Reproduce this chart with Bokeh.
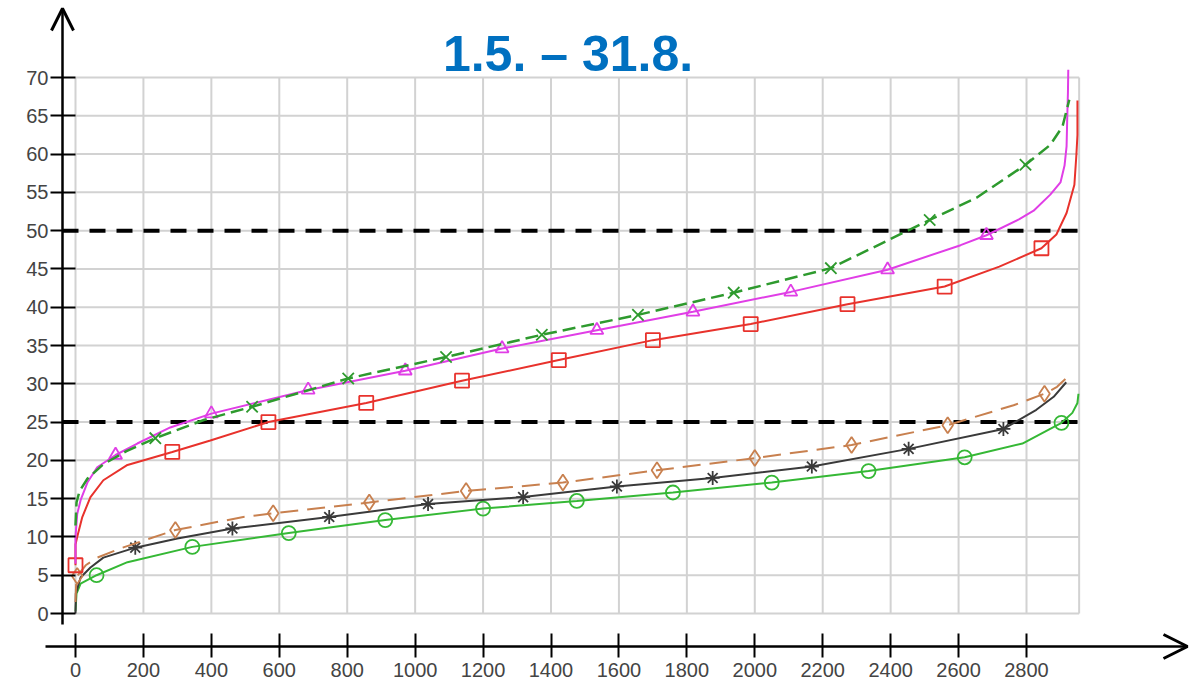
from bokeh.plotting import figure
from bokeh.models import Range1d, FixedTicker, Arrow, OpenHead, Label
from bokeh.embed import file_html
from bokeh.resources import INLINE

TITLE = "1.5. – 31.8."
X_TICKS = list(range(0, 2801, 200))
Y_TICKS = list(range(0, 71, 5))
X_MAX = 2955
Y_MAX = 70
THRESHOLDS = [25, 50]

# upper group
red_x = [0, 0, 5, 20, 44, 82, 153, 285, 397, 568, 856, 1138, 1423, 1700, 1988, 2273, 2559, 2720, 2844, 2888, 2918, 2941, 2947, 2950, 2950]
red_y = [6.3, 9.0, 10.0, 12.6, 15.2, 17.4, 19.4, 21.1, 22.6, 25.0, 27.5, 30.4, 33.1, 35.7, 37.8, 40.4, 42.7, 45.3, 47.7, 49.5, 52.3, 56.0, 60.0, 62.5, 67.0]
red_mx = [0, 285, 568, 856, 1138, 1423, 1700, 1988, 2273, 2559, 2844]
red_my = [6.3, 21.1, 25.0, 27.5, 30.4, 33.1, 35.7, 37.8, 40.4, 42.7, 47.7]

mag_x = [0, 0, 5, 15, 35, 64, 118, 182, 279, 400, 685, 971, 1256, 1535, 1818, 2106, 2391, 2606, 2682, 2779, 2821, 2870, 2900, 2912, 2918, 2920, 2922, 2923]
mag_y = [6.5, 10.0, 13.0, 14.8, 17.1, 19.1, 20.7, 22.2, 24.3, 26.1, 29.2, 31.7, 34.6, 37.0, 39.4, 42.0, 44.9, 48.1, 49.4, 51.5, 52.6, 54.7, 56.3, 58.5, 61.0, 64.8, 68.0, 71.0]
mag_mx = [118, 400, 685, 971, 1256, 1535, 1818, 2106, 2391, 2682]
mag_my = [20.7, 26.1, 29.2, 31.7, 34.6, 37.0, 39.4, 42.0, 44.9, 49.4]

gd_x = [0, 3, 12, 35, 82, 150, 235, 380, 520, 803, 1091, 1373, 1656, 1938, 2224, 2515, 2653, 2797, 2870, 2906, 2926]
gd_y = [11.5, 14.5, 16.0, 17.6, 19.5, 21.2, 22.9, 25.3, 27.0, 30.7, 33.5, 36.4, 39.0, 41.9, 45.1, 51.4, 54.3, 58.6, 61.2, 63.6, 67.1]
gd_mx = [235, 520, 803, 1091, 1373, 1656, 1938, 2224, 2515, 2797]
gd_my = [22.9, 27.0, 30.7, 33.5, 36.4, 39.0, 41.9, 45.1, 51.4, 58.6]

# lower group
br_x = [0, 2, 5, 30, 64, 132, 294, 494, 582, 865, 1150, 1435, 1712, 2000, 2285, 2568, 2762, 2853, 2890, 2926]
br_y = [1.5, 4.0, 4.9, 6.3, 7.3, 8.5, 10.9, 12.6, 13.1, 14.5, 16.0, 17.1, 18.7, 20.3, 22.0, 24.6, 27.2, 28.7, 29.6, 31.1]
br_mx = [5, 294, 582, 865, 1150, 1435, 1712, 2000, 2285, 2568, 2853]
br_my = [4.9, 10.9, 13.1, 14.5, 16.0, 17.1, 18.7, 20.3, 22.0, 24.6, 28.7]

bk_x = [0, 1, 15, 44, 82, 176, 300, 462, 747, 1038, 1318, 1594, 1876, 2168, 2453, 2732, 2829, 2880, 2917]
bk_y = [0, 2.6, 4.7, 6.0, 7.3, 8.6, 9.8, 11.1, 12.6, 14.3, 15.2, 16.6, 17.7, 19.2, 21.5, 24.1, 26.6, 28.3, 30.2]
bk_mx = [176, 462, 747, 1038, 1318, 1594, 1876, 2168, 2453, 2732]
bk_my = [8.6, 11.1, 12.6, 14.3, 15.2, 16.6, 17.7, 19.2, 21.5, 24.1]

gs_x = [0, 3, 15, 62, 153, 344, 628, 912, 1200, 1476, 1759, 2050, 2335, 2618, 2788, 2903, 2935, 2950, 2953]
gs_y = [0.3, 2.6, 3.9, 5.0, 6.7, 8.7, 10.5, 12.2, 13.7, 14.7, 15.8, 17.1, 18.6, 20.4, 22.2, 24.9, 26.2, 27.5, 28.7]
gs_mx = [62, 344, 628, 912, 1200, 1476, 1759, 2050, 2335, 2618, 2903]
gs_my = [5.0, 8.7, 10.5, 12.2, 13.7, 14.7, 15.8, 17.1, 18.6, 20.4, 24.9]

# ---- layout (pixels; frame fills the whole figure) ----
W, H = 1192, 680
KX = 951 / 2800.0          # px per x unit
KY = 536 / 70.0            # px per y unit
X0_PX, Y0_PX = 75, 613     # pixel position of the data origin
x_start = -X0_PX / KX
x_end = x_start + W / KX
y_end = Y_MAX + (Y0_PX - 536) / KY
y_start = y_end - H / KY

yaxis_x = -13 / KX          # y axis line, 13 px left of x=0
xaxis_y = -33 / KY          # x axis line, 33 px below y=0

p = figure(width=W, height=H, output_backend="svg", toolbar_location=None,
           x_range=Range1d(x_start, x_end), y_range=Range1d(y_start, y_end),
           min_border_left=0, min_border_right=0, min_border_top=0, min_border_bottom=0)
p.outline_line_color = None
p.xgrid.visible = False
p.ygrid.visible = False

for ax, ticks in ((p.xaxis[0], X_TICKS), (p.yaxis[0], Y_TICKS)):
    ax.ticker = FixedTicker(ticks=ticks)
    ax.axis_line_color = None
    ax.major_tick_line_color = "black"
    ax.major_tick_line_width = 2
    ax.minor_tick_line_color = None
    ax.major_label_text_font = "Liberation Sans"
    ax.major_label_text_font_size = "20px"
    ax.major_label_text_color = "#444444"
p.yaxis.fixed_location = yaxis_x
p.yaxis.major_tick_out = 12
p.yaxis.major_tick_in = 13
p.yaxis.major_label_standoff = 2
p.xaxis.fixed_location = xaxis_y
p.xaxis.major_tick_out = 11
p.xaxis.major_tick_in = 13
p.xaxis.major_label_standoff = 5

# plot-area grid
grid_kw = dict(line_color="#d2d2d2", line_width=2)
vx = X_TICKS + [X_MAX]
p.segment(x0=vx, y0=[0] * len(vx), x1=vx, y1=[Y_MAX] * len(vx), **grid_kw)
p.segment(x0=[0] * len(Y_TICKS), y0=Y_TICKS, x1=[X_MAX] * len(Y_TICKS), y1=Y_TICKS, **grid_kw)

# threshold lines
p.segment(x0=[yaxis_x] * len(THRESHOLDS), y0=THRESHOLDS, x1=[X_MAX] * len(THRESHOLDS), y1=THRESHOLDS,
          line_color="black", line_width=4, line_dash="16 11")

series = [
    (gs_x, gs_y, gs_mx, gs_my, "#35b835", "solid", "circle", 14, 2),
    (bk_x, bk_y, bk_mx, bk_my, "#3a3a3a", "solid", "asterisk", 14, 2),
    (br_x, br_y, br_mx, br_my, "#c8804f", "18 9", "diamond", 16, 2),
    (red_x, red_y, red_mx, red_my, "#e8322c", "solid", "square", 14, 2),
    (mag_x, mag_y, mag_mx, mag_my, "#e03ee6", "solid", "triangle", 13, 2),
    (gd_x, gd_y, gd_mx, gd_my, "#2e9a2e", "13 6", "x", 16, 2.5),
]
for lx, ly, mx, my, col, dash, mk, sz, lw in series:
    p.line(lx, ly, line_color=col, line_width=lw, line_dash=dash)
    p.scatter(mx, my, marker=mk, size=sz, line_color=col, fill_color=None, line_width=1.8)

# axis lines with arrow heads
p.add_layout(Arrow(end=OpenHead(size=22, line_width=3, line_color="black"),
                   x_start=yaxis_x, y_start=-11.0 / KY, x_end=yaxis_x, y_end=Y_MAX + 69 / KY,
                   line_color="black", line_width=2.5))
p.add_layout(Arrow(end=OpenHead(size=24, line_width=3, line_color="black"),
                   x_start=-30 / KX, y_start=xaxis_y, x_end=(1187 - X0_PX) / KX, y_end=xaxis_y,
                   line_color="black", line_width=2.5))

p.add_layout(Label(x=(567.5 - X0_PX) / KX, y=(Y0_PX - 53) / KY, text=TITLE, text_align="center",
                   text_baseline="alphabetic", text_font="Liberation Sans", text_font_size="50px",
                   text_font_style="bold", text_color="#0070c0"))

open("out.html", "w").write(file_html(p, INLINE))
